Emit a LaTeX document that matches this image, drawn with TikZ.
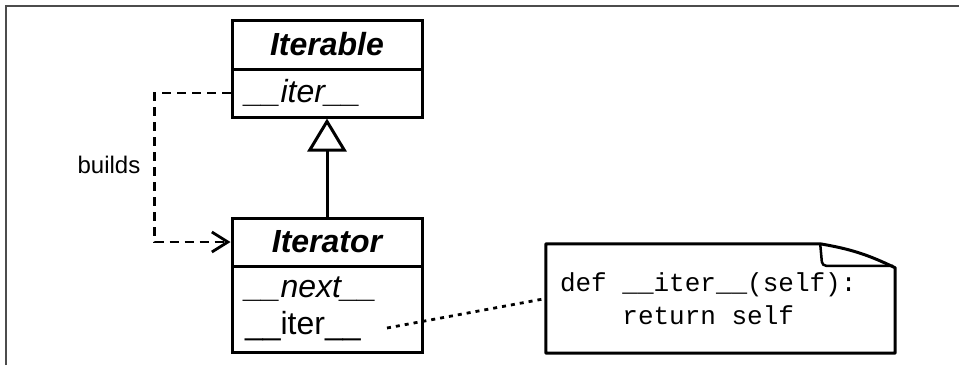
\documentclass[tikz,border=0pt]{standalone}
\usepackage{fontspec}
\setmainfont{Liberation Sans}
\setmonofont{Liberation Mono}
\usetikzlibrary{arrows.meta}

\newcommand{\ms}{\hphantom{x}}

\tikzset{
	classbox/.style={draw, line width=3pt, minimum width=190pt, inner sep=0pt,
		font=\fontsize{32}{37}\selectfont},
	memberbox/.style={classbox, text width=164pt, align=left},
	builds/.style={line width=2.8pt, dash pattern=on 9pt off 6pt,
		-{Straight Barb[length=16pt, width=20pt, line width=2.8pt]}},
	inherit/.style={line width=3pt, -{Triangle[open, length=33pt, width=39pt, line width=3pt]}},
	notelink/.style={line width=2.8pt, dash pattern=on 4pt off 5pt},
}

\begin{document}
\begin{tikzpicture}[x=1pt, y=-1pt]
	\useasboundingbox (0,0) rectangle (959,365);
	\draw[gray!60!black, line width=2pt] (6,365) -- (6,6) -- (959,6);

	% Iterable
	\node[classbox, minimum height=49pt] (tIterable) at (327,44.5) {\bfseries\itshape Iterable};
	\node[memberbox, minimum height=48pt] (mIterable) at (327,93) {\itshape\_\_iter\_\_};

	% Iterator
	\node[classbox, minimum height=48pt] (tIterator) at (327,242) {\bfseries\itshape Iterator};
	\node[memberbox, minimum height=86pt] (mIterator) at (327,309)
		{{\itshape\_\_next\_\_}\\\_\_iter\_\_};
	\coordinate (iterend) at (387,328);

	\draw[inherit] (tIterator.north) -- (mIterable.south);
	\draw[builds] (mIterable.west) -- ++(-76,0) |- (tIterator.west);
	\node[font=\fontsize{24}{28}\selectfont] (lbuilds) at (109,165) {builds};

	% note
	\node[minimum width=349pt, minimum height=109pt, inner xsep=14pt, text width=321pt,
		align=left, font=\fontsize{26}{33}\ttfamily] (note) at (720.5,298.5)
		{def\ms\_\_iter\_\_(self):\\\ms\ms\ms\ms return\ms self};
	\draw[line width=3pt, line join=round] (note.north west) -- ([xshift=-75pt]note.north east)
		to[bend left=8] ([yshift=-24pt]note.north east) -- (note.south east)
		-- (note.south west) -- cycle;
	\draw[line width=2.5pt, rounded corners=4pt] ([xshift=-75pt]note.north east)
		-- ++(2,22) -- ([xshift=-2pt, yshift=-22pt]note.north east);
	\draw[notelink] (iterend) -- (note.west);
\end{tikzpicture}
\end{document}
